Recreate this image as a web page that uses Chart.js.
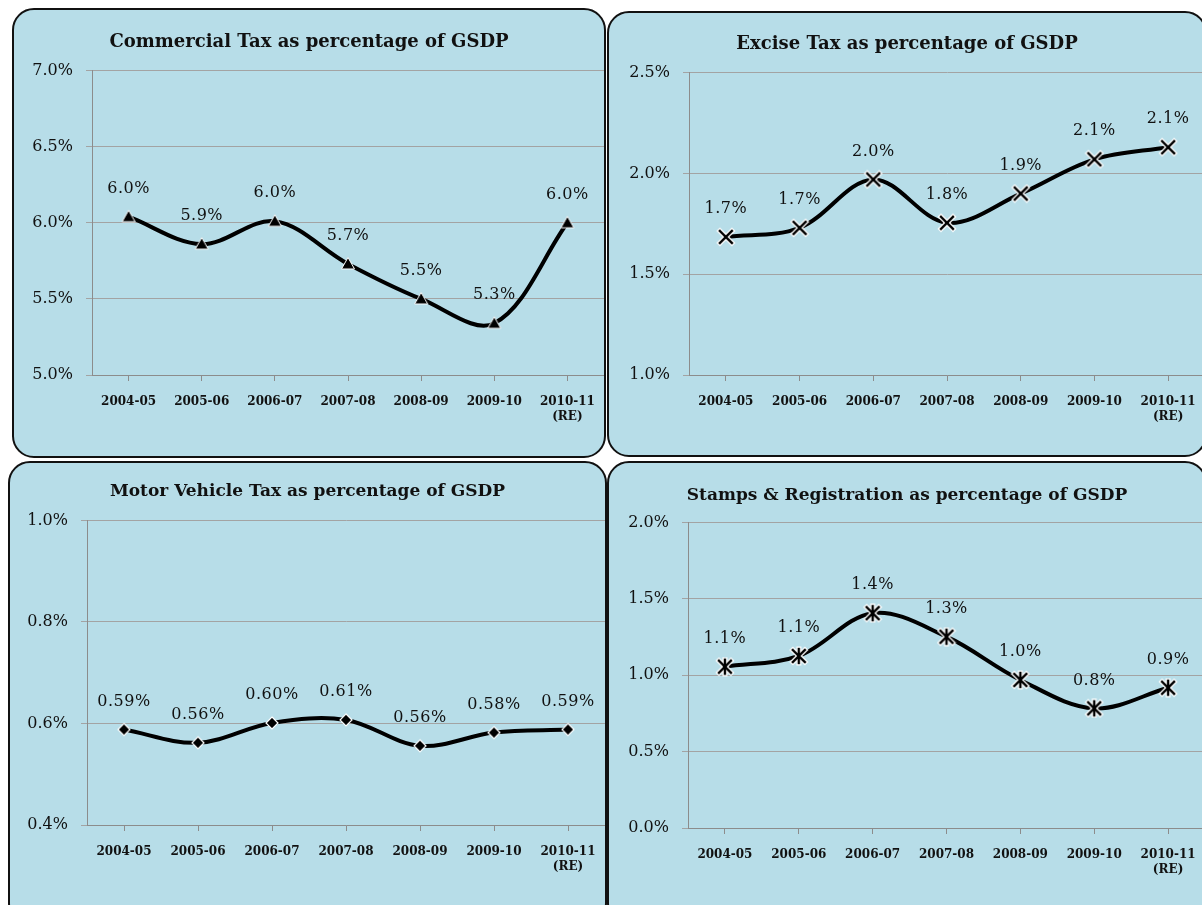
<!DOCTYPE html>
<html>
<head>
<meta charset="utf-8">
<script src="https://cdn.jsdelivr.net/npm/chart.js@4.4.0/dist/chart.umd.min.js"></script>
<style>
  html, body { margin: 0; padding: 0; background: #fff; }
  body { width: 1202px; height: 905px; position: relative; overflow: hidden; }
  .panel {
    position: absolute;
    background: #b7dde8;
    border: 2px solid #111;
    border-radius: 22px;
    overflow: hidden;
  }
  .panel canvas { position: absolute; left: 0; top: 0; }
</style>
</head>
<body>
  <div class="panel" id="p1" style="left:12px;top:8px;width:590px;height:446px;"><canvas id="c1" width="590" height="446"></canvas></div>
  <div class="panel" id="p2" style="left:607px;top:11px;width:596px;height:442px;"><canvas id="c2" width="596" height="442"></canvas></div>
  <div class="panel" id="p3" style="left:8px;top:461px;width:595px;height:460px;"><canvas id="c3" width="595" height="460"></canvas></div>
  <div class="panel" id="p4" style="left:607px;top:461px;width:596px;height:460px;"><canvas id="c4" width="596" height="460"></canvas></div>

<script>
  // Données
  const categories = ['2004-05', '2005-06', '2006-07', '2007-08', '2008-09', '2009-10', ['2010-11', '(RE)']];

  const commercialTax = [6.04, 5.86, 6.01, 5.73, 5.50, 5.34, 6.00];
  const exciseTax = [1.685, 1.73, 1.97, 1.755, 1.90, 2.07, 2.13];
  const motorVehicleTax = [0.588, 0.562, 0.601, 0.607, 0.556, 0.582, 0.588];
  const stampsRegistration = [1.056, 1.126, 1.406, 1.252, 0.969, 0.783, 0.918];

  const serif = "'DejaVu Serif', 'Liberation Serif', serif";

  // Marqueurs dessinés à la main (contour blanc comme dans Excel)
  function makeMarker(kind) {
    const s = 20;
    const c = document.createElement('canvas');
    c.width = s; c.height = s;
    const g = c.getContext('2d');
    const m = s / 2;
    g.lineJoin = 'miter';
    if (kind === 'triangle') {
      g.beginPath();
      g.moveTo(m, m - 6.5); g.lineTo(m + 6.5, m + 5); g.lineTo(m - 6.5, m + 5); g.closePath();
      g.fillStyle = '#000'; g.fill();
      g.strokeStyle = '#fff'; g.lineWidth = 1; g.stroke();
    } else if (kind === 'diamond') {
      g.beginPath();
      g.moveTo(m, m - 6); g.lineTo(m + 6, m); g.lineTo(m, m + 6); g.lineTo(m - 6, m); g.closePath();
      g.fillStyle = '#000'; g.fill();
      g.strokeStyle = '#fff'; g.lineWidth = 1.2; g.stroke();
    } else {
      const r = 6;
      const arms = [[-r, -r, r, r], [-r, r, r, -r]];
      if (kind === 'asterisk') arms.push([0, -r - 1, 0, r + 1]);
      const draw = (w, col) => {
        g.strokeStyle = col; g.lineWidth = w; g.lineCap = 'square';
        arms.forEach(a => {
          g.beginPath(); g.moveTo(m + a[0], m + a[1]); g.lineTo(m + a[2], m + a[3]); g.stroke();
        });
      };
      draw(5, '#fff');
      draw(2.4, '#000');
    }
    return c;
  }

  // Étiquettes de valeur au-dessus des points
  const valueLabels = {
    id: 'valueLabels',
    afterDatasetsDraw(chart, args, opts) {
      const ctx = chart.ctx;
      const ds = chart.data.datasets[0];
      const meta = chart.getDatasetMeta(0);
      ctx.save();
      ctx.font = '16px ' + serif;
      ctx.letterSpacing = '0.5px';
      ctx.fillStyle = '#111';
      ctx.textAlign = 'center';
      ctx.textBaseline = 'middle';
      meta.data.forEach((pt, i) => {
        ctx.fillText(ds.data[i].toFixed(opts.decimals) + '%', pt.x, pt.y - 28);
      });
      ctx.restore();
    }
  };

  function makeChart(id, title, values, yMin, yMax, yStep, decimals, marker, box) {
    const ctx = document.getElementById(id).getContext('2d');
    return new Chart(ctx, {
      type: 'line',
      data: {
        labels: categories,
        datasets: [{
          data: values,
          borderColor: '#000',
          borderWidth: 4,
          tension: 0.35,
          fill: false,
          pointStyle: makeMarker(marker),
          pointRadius: 6,
        }],
      },
      options: {
        responsive: false,
        animation: false,
        layout: { padding: 0, autoPadding: false },
        plugins: {
          legend: { display: false },
          tooltip: { enabled: false },
          title: {
            display: true,
            text: title,
            color: '#111',
            font: { family: serif, size: box.titleSize, weight: 'bold' },
            padding: { top: box.titleTop, bottom: box.titleBottom },
          },
          valueLabels: { decimals: decimals },
        },
        scales: {
          x: {
            offset: true,
            grid: {
              offset: false,
              drawOnChartArea: false,
              drawTicks: true,
              tickLength: 6,
              color: '#8c8c8c',
            },
            border: { color: '#8c8c8c' },
            ticks: {
              color: '#111',
              font: { family: serif, size: 12, weight: 'bold' },
              padding: 14,
              maxRotation: 0,
              autoSkip: false,
            },
            afterFit(s) {
              s.height = box.xHeight;
              s.paddingLeft = 0;
              s.paddingRight = 0;
            },
          },
          y: {
            min: yMin,
            max: yMax,
            grid: { color: '#a3a3a3', tickLength: 6 },
            border: { color: '#8c8c8c' },
            ticks: {
              stepSize: yStep,
              color: '#111',
              font: { family: serif, size: 16 },
              padding: 13,
              callback: v => v.toFixed(1) + '%',
            },
            afterFit(s) { s.width = box.yWidth; },
          },
        },
      },
      plugins: [valueLabels],
    });
  }

  makeChart('c1', 'Commercial Tax as percentage of GSDP', commercialTax, 5, 7, 0.5, 1, 'triangle',
    { yWidth: 78, titleSize: 18, titleTop: 22, titleBottom: 17, xHeight: 81 });
  makeChart('c2', 'Excise Tax as percentage of GSDP', exciseTax, 1, 2.5, 0.5, 1, 'cross',
    { yWidth: 80, titleSize: 18, titleTop: 21, titleBottom: 17, xHeight: 80 });
  makeChart('c3', 'Motor Vehicle Tax as percentage of GSDP', motorVehicleTax, 0.4, 1.0, 0.2, 2, 'diamond',
    { yWidth: 77, titleSize: 17, titleTop: 18, titleBottom: 19, xHeight: 98 });
  makeChart('c4', 'Stamps & Registration as percentage of GSDP', stampsRegistration, 0, 2, 0.5, 1, 'asterisk',
    { yWidth: 79, titleSize: 17, titleTop: 22, titleBottom: 17, xHeight: 95 });
</script>
</body>
</html>
